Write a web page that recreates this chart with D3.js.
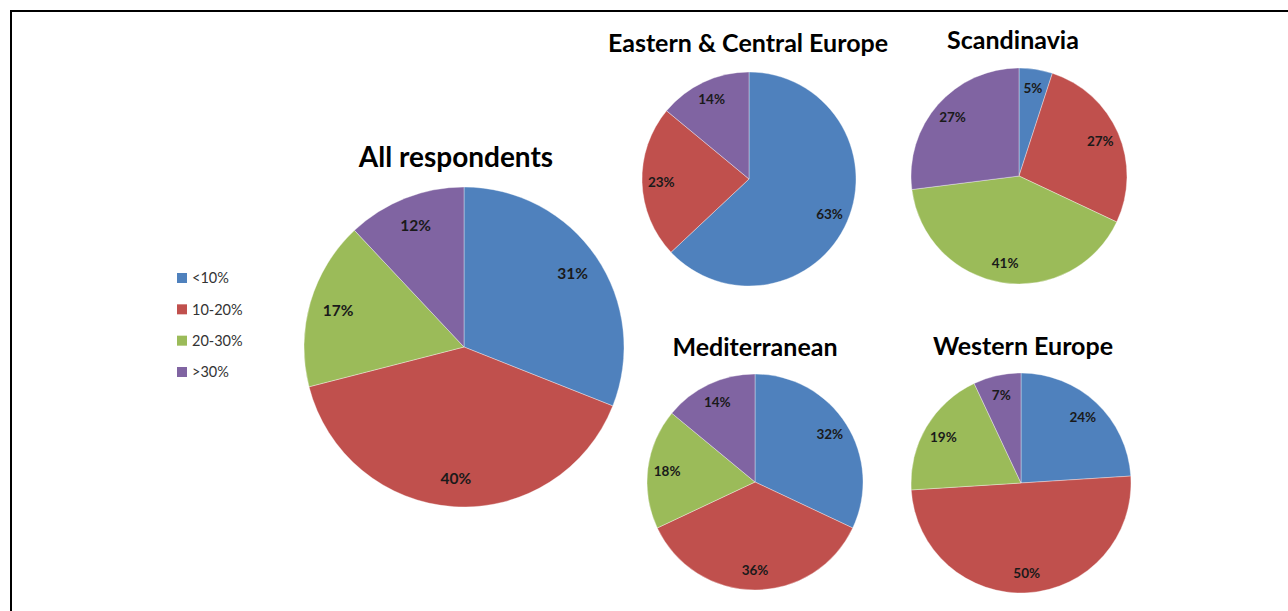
<!DOCTYPE html>
<html>
<head>
<meta charset="utf-8">
<script src="https://d3js.org/d3.v7.min.js"></script>
<style>
  body { margin: 0; background: #fff; }
  text { font-family: Lato, "Noto Sans", sans-serif; }
</style>
</head>
<body></body>
<script>
const width = 1288;
const height = 611;

// data
const categories = ['<10%', '10-20%', '20-30%', '>30%'];
const colors = ['#4f81bd', '#c0504d', '#9bbb59', '#8064a2'];

const regions = ['All respondents', 'Eastern & Central Europe', 'Scandinavia', 'Mediterranean', 'Western Europe'];
const allRespondents = [31, 40, 17, 12];
const easternCentral = [63, 23, 0, 14];
const scandinavia = [5, 27, 41, 27];
const mediterranean = [32, 36, 18, 14];
const westernEurope = [24, 50, 19, 7];
const seriesValues = [allRespondents, easternCentral, scandinavia, mediterranean, westernEurope];

// layout of each pie (center, radius, title position, font sizes)
const layout = [
  {cx: 464, cy: 347, r: 160, tx: 456, ty: 167, tSize: 28, lSize: 15.5},
  {cx: 749, cy: 179, r: 107, tx: 748, ty: 52, tSize: 25, lSize: 13.5},
  {cx: 1019, cy: 176, r: 108, tx: 1013, ty: 49, tSize: 25, lSize: 13.5},
  {cx: 755, cy: 482, r: 108, tx: 755, ty: 356, tSize: 25, lSize: 13.5},
  {cx: 1021, cy: 483, r: 110, tx: 1023, ty: 355, tSize: 25, lSize: 13.5}
];

const color = d3.scaleOrdinal().domain(categories).range(colors);

const svg = d3.select('body')
  .append('svg')
  .attr('width', width)
  .attr('height', height);

// frame
svg.append('path')
  .attr('d', `M11,${height + 5}V11H${width + 5}`)
  .attr('fill', 'none')
  .attr('stroke', '#000')
  .attr('stroke-width', 2);

const pie = d3.pie().sort(null).value(d => d.value);

regions.forEach((name, i) => {
  const L = layout[i];
  const data = seriesValues[i].map((v, j) => ({cat: categories[j], value: v}));
  const arc = d3.arc().innerRadius(0).outerRadius(L.r);
  const labelArc = d3.arc().innerRadius(L.r * 0.82).outerRadius(L.r * 0.82);

  const g = svg.append('g')
    .attr('transform', `translate(${L.cx},${L.cy})`);

  const slices = pie(data).filter(d => d.data.value > 0);

  g.selectAll('path')
    .data(slices)
    .enter()
    .append('path')
    .attr('d', arc)
    .attr('fill', d => color(d.data.cat))
    .attr('stroke', 'rgba(255,255,255,0.45)')
    .attr('stroke-width', 0.8);

  g.selectAll('text')
    .data(slices)
    .enter()
    .append('text')
    .attr('transform', d => `translate(${labelArc.centroid(d)})`)
    .attr('text-anchor', 'middle')
    .attr('dy', '0.36em')
    .attr('font-size', L.lSize)
    .attr('font-weight', 'bold')
    .attr('fill', '#1a1a1a')
    .text(d => d.data.value + '%');

  svg.append('text')
    .attr('x', L.tx)
    .attr('y', L.ty)
    .attr('text-anchor', 'middle')
    .attr('font-size', L.tSize)
    .attr('font-weight', 'bold')
    .attr('fill', '#000')
    .text(name);
});

// legend
const legendY = d3.scalePoint()
  .domain(categories)
  .range([278, 372]);

const legend = svg.append('g')
  .selectAll('g')
  .data(categories)
  .enter()
  .append('g')
  .attr('transform', d => `translate(177,${legendY(d)})`);

legend.append('rect')
  .attr('x', 0)
  .attr('y', -5)
  .attr('width', 10)
  .attr('height', 10)
  .attr('fill', d => color(d));

legend.append('text')
  .attr('x', 15)
  .attr('dy', '0.36em')
  .attr('font-size', 14.5)
  .attr('fill', '#333')
  .text(d => d);
</script>
</html>
